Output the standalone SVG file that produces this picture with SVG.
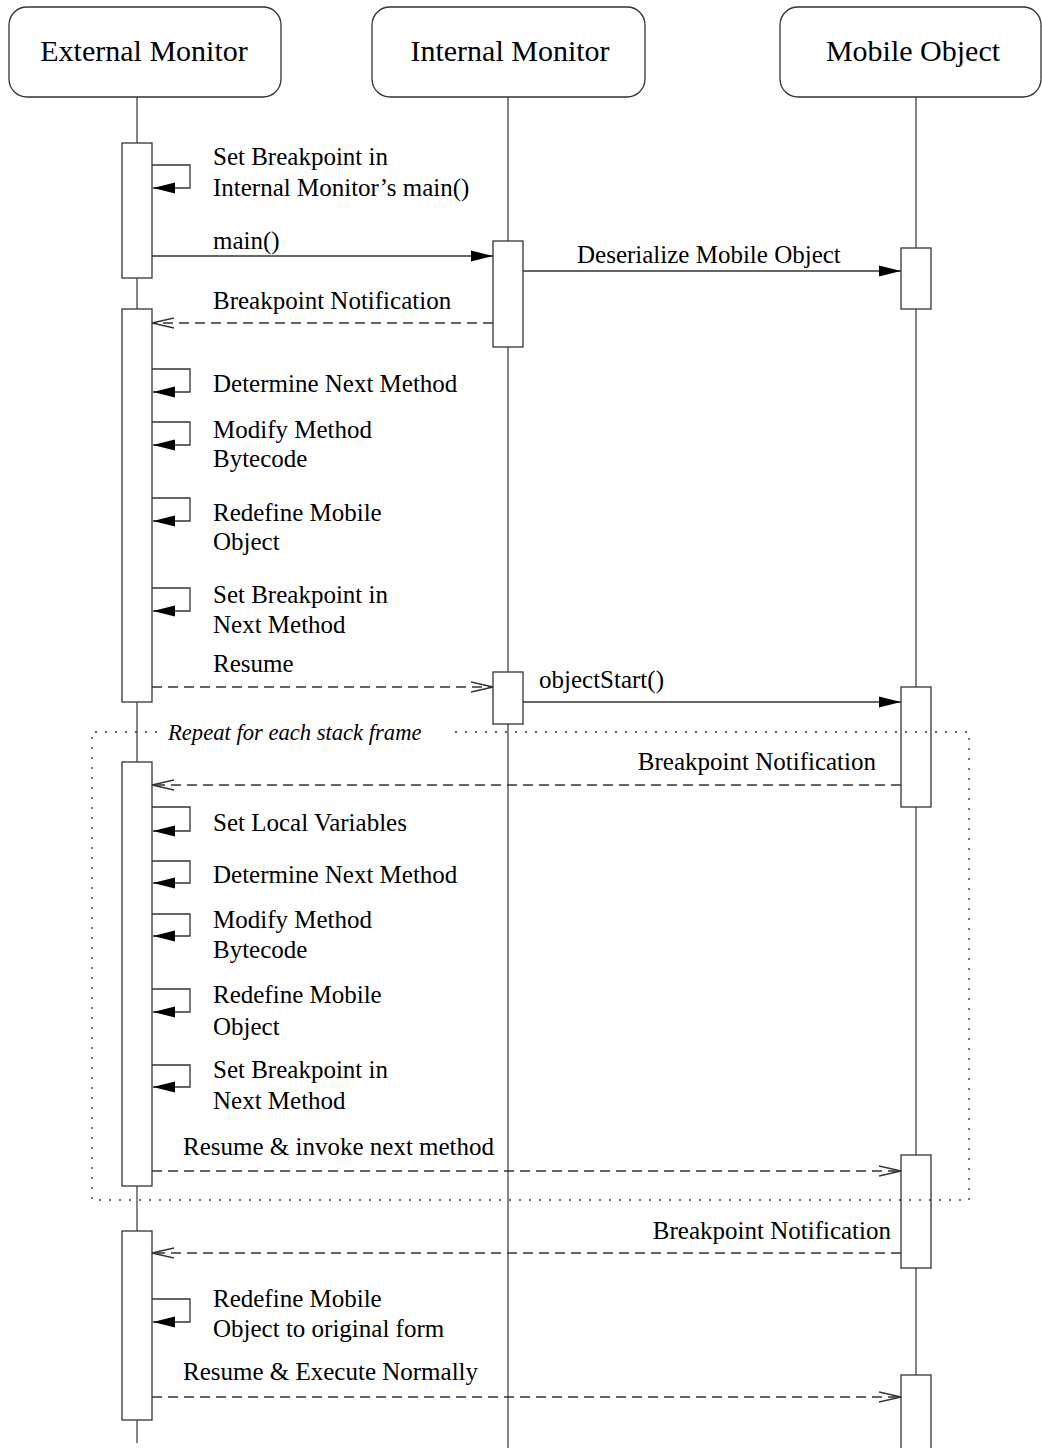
<svg xmlns="http://www.w3.org/2000/svg" width="1042" height="1448" viewBox="0 0 1042 1448">
<style>
text{font-family:"Liberation Serif","Times New Roman",serif;fill:#000}
.hdr{font-size:30px;text-anchor:middle}
.lbl{font-size:25px}
.end{text-anchor:end}
.ital{font-size:22.6px;font-style:italic}
.box{fill:#fff;stroke:#333;stroke-width:1.3}
.life{stroke:#444;stroke-width:1.3;fill:none}
.bar{fill:#fff;stroke:#333;stroke-width:1.3}
.sync{stroke:#333;stroke-width:1.3;fill:none;marker-end:url(#filled)}
.async{stroke:#333;stroke-width:1.3;fill:none;stroke-dasharray:10,6;marker-end:url(#open)}
.frame{stroke:#333;stroke-width:1.3;fill:none;stroke-dasharray:2,8}
</style>
<defs>
<marker id="filled" markerUnits="userSpaceOnUse" markerWidth="24" markerHeight="14" refX="22" refY="6" orient="auto">
<path d="M0,0.5 L22,6 L0,11.5 z" fill="#000"/>
</marker>
<marker id="open" markerUnits="userSpaceOnUse" markerWidth="24" markerHeight="14" refX="22" refY="6" orient="auto">
<path d="M0,1 L22,6 L0,11" fill="none" stroke="#333" stroke-width="1.3"/>
</marker>
</defs>

<g id="lifelines">
<line class="life" x1="137" y1="97" x2="137" y2="1443"/>
<line class="life" x1="508" y1="97" x2="508" y2="1448"/>
<line class="life" x1="916" y1="97" x2="916" y2="1448"/>
</g>

<g id="external-monitor">
<rect class="box" x="9" y="7" width="272" height="90" rx="18" ry="18"/>
<text class="hdr" x="144" y="61">External Monitor</text>
</g>
<g id="internal-monitor">
<rect class="box" x="372" y="7" width="273" height="90" rx="18" ry="18"/>
<text class="hdr" x="510" y="61">Internal Monitor</text>
</g>
<g id="mobile-object">
<rect class="box" x="780" y="7" width="261" height="90" rx="18" ry="18"/>
<text class="hdr" x="913" y="61">Mobile Object</text>
</g>

<g id="activations">
<rect id="ext-act-1" class="bar" x="122" y="143" width="30" height="135"/>
<rect id="ext-act-2" class="bar" x="122" y="309" width="30" height="393"/>
<rect id="ext-act-3" class="bar" x="122" y="762" width="30" height="424"/>
<rect id="ext-act-4" class="bar" x="122" y="1231" width="30" height="189"/>
<rect id="int-act-1" class="bar" x="493" y="241" width="30" height="106"/>
<rect id="int-act-2" class="bar" x="493" y="672" width="30" height="52"/>
<rect id="mob-act-1" class="bar" x="901" y="248" width="30" height="61"/>
<rect id="mob-act-2" class="bar" x="901" y="687" width="30" height="120"/>
<rect id="mob-act-3" class="bar" x="901" y="1155" width="30" height="113"/>
<rect id="mob-act-4" class="bar" x="901" y="1375" width="30" height="85"/>
</g>

<g id="connectors">
<path class="sync" d="M152,165 H190 V188 H153"/>
<line class="sync" x1="152" y1="256" x2="493" y2="256"/>
<line class="sync" x1="523" y1="271" x2="901" y2="271"/>
<line class="async" x1="493" y1="323" x2="152" y2="323"/>
<path class="sync" d="M152,369 H190 V392 H153"/>
<path class="sync" d="M152,422 H190 V445 H153"/>
<path class="sync" d="M152,498 H190 V521 H153"/>
<path class="sync" d="M152,588 H190 V611 H153"/>
<line class="async" x1="152" y1="687" x2="493" y2="687"/>
<line class="sync" x1="523" y1="702" x2="901" y2="702"/>
<line class="async" x1="901" y1="785" x2="152" y2="785"/>
<path class="sync" d="M152,807 H190 V831 H153"/>
<path class="sync" d="M152,861 H190 V883 H153"/>
<path class="sync" d="M152,914 H190 V936 H153"/>
<path class="sync" d="M152,989 H190 V1012 H153"/>
<path class="sync" d="M152,1065 H190 V1087 H153"/>
<line class="async" x1="152" y1="1171" x2="901" y2="1171"/>
<line class="async" x1="901" y1="1253" x2="152" y2="1253"/>
<path class="sync" d="M152,1299 H190 V1322 H153"/>
<line class="async" x1="152" y1="1397" x2="901" y2="1397"/>
</g>

<g id="loop-frame">
<path class="frame" d="M157,732 H92 V1200 H969 V732 H455"/>
<text class="ital" x="168" y="740">Repeat for each stack frame</text>
</g>

<g id="labels">
<text class="lbl" x="213" y="165">Set Breakpoint in</text>
<text class="lbl" x="213" y="196">Internal Monitor’s main()</text>
<text class="lbl" x="213" y="249">main()</text>
<text class="lbl" x="577" y="263">Deserialize Mobile Object</text>
<text class="lbl" x="213" y="309">Breakpoint Notification</text>
<text class="lbl" x="213" y="392">Determine Next Method</text>
<text class="lbl" x="213" y="438">Modify Method</text>
<text class="lbl" x="213" y="467">Bytecode</text>
<text class="lbl" x="213" y="521">Redefine Mobile</text>
<text class="lbl" x="213" y="550">Object</text>
<text class="lbl" x="213" y="603">Set Breakpoint in</text>
<text class="lbl" x="213" y="633">Next Method</text>
<text class="lbl" x="213" y="672">Resume</text>
<text class="lbl" x="539" y="688">objectStart()</text>
<text class="lbl end" x="876" y="770">Breakpoint Notification</text>
<text class="lbl" x="213" y="831">Set Local Variables</text>
<text class="lbl" x="213" y="883">Determine Next Method</text>
<text class="lbl" x="213" y="928">Modify Method</text>
<text class="lbl" x="213" y="958">Bytecode</text>
<text class="lbl" x="213" y="1003">Redefine Mobile</text>
<text class="lbl" x="213" y="1035">Object</text>
<text class="lbl" x="213" y="1078">Set Breakpoint in</text>
<text class="lbl" x="213" y="1109">Next Method</text>
<text class="lbl" x="183" y="1155">Resume &amp; invoke next method</text>
<text class="lbl end" x="891" y="1239">Breakpoint Notification</text>
<text class="lbl" x="213" y="1307">Redefine Mobile</text>
<text class="lbl" x="213" y="1337">Object to original form</text>
<text class="lbl" x="183" y="1380">Resume &amp; Execute Normally</text>
</g>
</svg>
